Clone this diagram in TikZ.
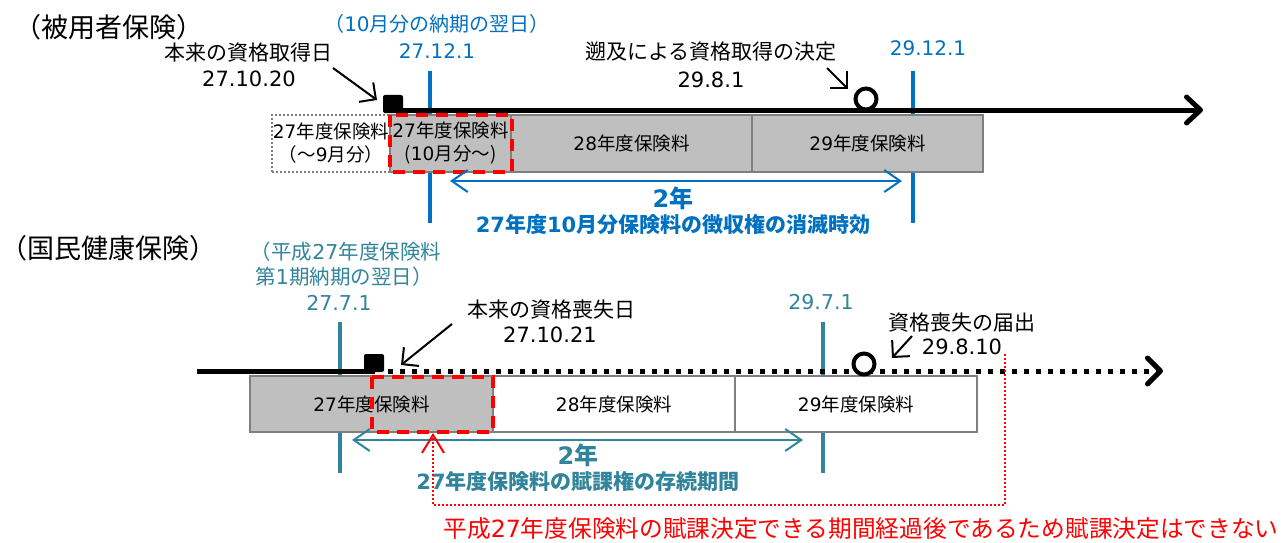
\documentclass[tikz,border=0pt]{standalone}
\usepackage{fontspec}
\setmainfont{Noto Sans CJK JP}
\newfontfamily\dv{DejaVu Sans}
\usetikzlibrary{arrows.meta}
\definecolor{blu}{HTML}{0070C0}
\definecolor{tea}{HTML}{31849B}
\definecolor{gfill}{HTML}{BFBFBF}
\definecolor{gline}{HTML}{7F7F7F}
\definecolor{rd}{HTML}{FF0000}
\begin{document}
\begin{tikzpicture}[x=1pt,y=-1pt,
  lbl/.style={inner sep=0pt, align=center, font=\fontsize{21}{25}\selectfont},
  ttl/.style={inner sep=0pt, font=\fontsize{27}{31}\selectfont},
  blbl/.style={lbl, text=blu, font=\fontsize{20}{24}\selectfont},
  tlbl/.style={lbl, text=tea, font=\fontsize{20.5}{24}\selectfont},
  bigb/.style={inner sep=0pt, font=\bfseries\fontsize{24}{28}\selectfont},
  boldb/.style={inner sep=0pt, font=\bfseries\fontsize{21}{25}\selectfont},
  pbox/.style={draw=gline, line width=2pt, inner sep=0pt, align=center, font=\fontsize{18.5}{23}\selectfont},
  reddash/.style={draw=rd, line width=3.5pt, dash pattern=on 12pt off 8pt},
  annarrow/.style={draw=black, line width=2pt, -{Straight Barb[length=12pt,width=24pt]}},
  dblarrow/.style={line width=2pt, {Straight Barb[length=16pt,width=22pt]}-{Straight Barb[length=16pt,width=22pt]}},
  mainarrow/.style={line width=5pt, -{Straight Barb[length=14pt,width=26pt,round]}},
  vline/.style={line width=4pt},
  ringmark/.style={draw=black, line width=4pt, fill=white, circle, inner sep=0pt, minimum size=21pt},
  sq/.style={fill=black, rounded corners=2pt}
]
\useasboundingbox (0,0) rectangle (1286,543);

% ================= top: 被用者保険 =================
\node[ttl] (t1) at (109,27) {（被用者保険）};
\node[blbl] (bn) at (437,24) {（{\dv 10}月分の納期の翌日）};
\node[blbl] (d1) at (437,51) {\dv 27.12.1};
\node[blbl] (d2) at (928,48) {\dv 29.12.1};
\node[lbl] (s1) at (248,53) {本来の資格取得日};
\node[lbl] (s2) at (249,79) {\dv 27.10.20};
\node[lbl] (r1) at (711,52) {遡及による資格取得の決定};
\node[lbl] (r2) at (711,80) {\dv 29.8.1};

\draw[blu, vline] (430,71) coordinate (v1t) -- (430,223) coordinate (v1b);
\draw[blu, vline] (913,71) coordinate (v2t) -- (913,223) coordinate (v2b);

\node[pbox, draw=gline, dash pattern=on 2pt off 2pt, fill=white, minimum width=118pt, minimum height=57pt] (b0) at (331,143.5) {{\dv 27}年度保険料\\（～{\dv 9}月分）};
\node[pbox, fill=gfill, minimum width=121pt, minimum height=57pt] (b1) at (450.5,143.5) {{\dv 27}年度保険料\\({\dv 10}月分～)};
\node[pbox, fill=gfill, minimum width=241pt, minimum height=57pt] (b2) at (631.5,143.5) {{\dv 28}年度保険料};
\node[pbox, fill=gfill, minimum width=231pt, minimum height=57pt] (b3) at (867.5,143.5) {{\dv 29}年度保険料};
\draw[reddash] (390,115) rectangle (512,172);

\coordinate (m0) at (395,110);
\coordinate (m1) at (1203,110);
\draw[mainarrow] (m0) -- (m1);
\fill[sq] (383,95) rectangle (403,113);
\node[ringmark] (c1) at (866,99) {};

\draw[annarrow] (333,68) coordinate (a1s) -- (377,100) coordinate (a1e);
\draw[annarrow] (827,68) coordinate (a2s) -- (848,89) coordinate (a2e);

\draw[blu, dblarrow] (450,181) coordinate (ba) -- (902,181) coordinate (bb);
\node[bigb, text=blu] (y1) at (673,198) {{\dv\bfseries 2}年};
\node[boldb, text=blu] (y1t) at (673,225) {{\dv\bfseries 27}年度{\dv\bfseries 10}月分保険料の徴収権の消滅時効};

% ================= bottom: 国民健康保険 =================
\node[ttl] (t2) at (109,248) {（国民健康保険）};
\node[tlbl] (n1) at (346,252) {（平成{\dv 27}年度保険料};
\node[tlbl] (n2) at (344,277) {第{\dv 1}期納期の翌日）};
\node[tlbl] (n3) at (339,303) {\dv 27.7.1};
\node[tlbl] (n4) at (821,302) {\dv 29.7.1};
\node[lbl] (l1) at (551,310) {本来の資格喪失日};
\node[lbl] (l2) at (550,335) {\dv 27.10.21};
\node[lbl] (k1) at (962,323) {資格喪失の届出};
\node[lbl] (k2) at (962,347) {\dv 29.8.10};

\draw[tea, vline] (340,322) coordinate (w1t) -- (340,473) coordinate (w1b);
\draw[tea, vline] (823,322) coordinate (w2t) -- (823,473) coordinate (w2b);

\node[pbox, fill=gfill, minimum width=243pt, minimum height=56pt] (p1) at (371.5,404) {{\dv 27}年度保険料};
\node[pbox, fill=white, minimum width=242pt, minimum height=56pt] (p2) at (614,404) {{\dv 28}年度保険料};
\node[pbox, fill=white, minimum width=242pt, minimum height=56pt] (p3) at (856,404) {{\dv 29}年度保険料};
\draw[reddash] (372,377) rectangle (493,432);

\coordinate (q0) at (197,371);
\coordinate (q1) at (375,371);
\coordinate (q2) at (388,371);
\coordinate (q3) at (1163,371);
\draw[line width=5pt] (q0) -- (q1);
\draw[line width=5pt, dash pattern=on 5pt off 7pt, -{Straight Barb[length=13pt,width=26pt,round]}] (q2) -- (q3);
\fill[sq] (364,354) rectangle (384,372);
\node[ringmark] (c2) at (864,364) {};

\draw[annarrow] (452,324) coordinate (a3s) -- (401,365) coordinate (a3e);
\draw[annarrow] (912,336) coordinate (a4s) -- (892,358) coordinate (a4e);

\draw[tea, dblarrow] (352,440) coordinate (ta) -- (803,440) coordinate (tb);
\node[bigb, text=tea] (y2) at (578,455) {{\dv\bfseries 2}年};
\node[boldb, text=tea] (y2t) at (578,482) {{\dv\bfseries 27}年度保険料の賦課権の存続期間};

\draw[rd, line width=2pt, dash pattern=on 2pt off 2pt, -{Straight Barb[length=18pt,width=22pt]}]
  (1005,354) coordinate (r0) -- (1005,505) coordinate (r1c) -- (433,505) coordinate (r2c) -- (433,433) coordinate (r3c);
\node[inner sep=0pt, text=rd, font=\fontsize{23.7}{27}\selectfont] (warn) at (861,529) {平成{\dv 27}年度保険料の賦課決定できる期間経過後であるため賦課決定はできない};
\end{tikzpicture}
\end{document}
